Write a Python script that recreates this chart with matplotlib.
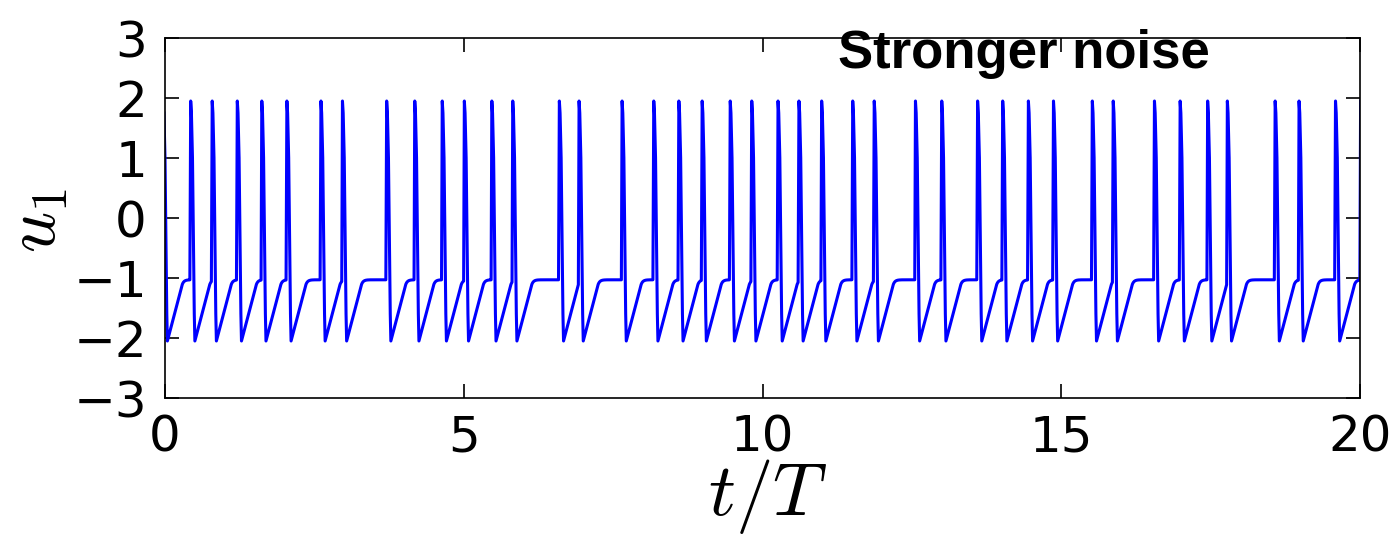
import numpy as np
import matplotlib
matplotlib.use("Agg")
import matplotlib.pyplot as plt

# ---- data ----
# times (t/T) of the spike peaks
spike_times = [-0.03, 0.43, 0.79, 1.21, 1.62, 2.04, 2.61, 2.97, 3.71, 4.18,
               4.64, 5.01, 5.47, 5.82, 6.60, 6.93, 7.65, 8.18, 8.60, 8.99,
               9.46, 9.82, 10.26, 10.61, 10.99, 11.51, 11.87, 12.56, 13.00,
               13.60, 14.02, 14.45, 14.87, 15.52, 15.87, 16.56, 16.99, 17.45,
               17.78, 18.58, 18.98, 19.59, 20.01]
# spike waveform (offset from peak, value)
spike_dt = [0.0, 0.012, 0.03, 0.045, 0.06, 0.07]
spike_u = [1.95, 1.75, 1.0, -0.3, -1.6, -2.05]
rise_dt = 0.012
u_min = -2.05      # trough after a spike
u_knee = -1.12     # end of the linear recovery
u_rest = -1.03     # resting plateau
recovery_slope = 3.8

xticks = [0, 5, 10, 15, 20]
yticks = [-3, -2, -1, 0, 1, 2, 3]


def recovery(tau):
    tk = (u_knee - u_min) / recovery_slope
    lin = u_min + recovery_slope * tau
    ex = u_rest + (u_knee - u_rest) * np.exp(-(tau - tk) / 0.03)
    return np.where(tau < tk, lin, ex)


t_all = [spike_times[0] - 0.1, spike_times[0] - rise_dt]
u_all = [u_rest, u_rest]
n = len(spike_times)
for i, s in enumerate(spike_times):
    for d, v in zip(spike_dt, spike_u):
        t_all.append(s + d)
        u_all.append(v)
    bottom = s + spike_dt[-1]
    nxt = spike_times[i + 1] - rise_dt if i + 1 < n else 20.5
    tau = np.arange(0.002, max(nxt - bottom, 0.003), 0.002)
    t_all.extend(list(bottom + tau))
    u_all.extend(list(recovery(tau)))

t_all = np.array(t_all)
u_all = np.array(u_all)
mask = (t_all >= -0.2) & (t_all <= 20.2)

plt.rcParams["mathtext.fontset"] = "cm"
plt.rcParams["font.family"] = ["DejaVu Sans"]

fig = plt.figure(figsize=(13.93, 5.48), dpi=100)
ax = fig.add_axes([165 / 1393, 1 - 398 / 548, 1195 / 1393, 360 / 548])
ax.plot(t_all[mask], u_all[mask], color="#0000ff", lw=2.2)
ax.set_xlim(0, 20)
ax.set_ylim(-3, 3)
ax.set_xticks(xticks)
ax.set_yticks(yticks)
ax.tick_params(direction="in", top=True, right=True, length=10, width=1.2,
               labelsize=36)
ax.tick_params(axis="x", pad=11)
ax.tick_params(axis="y", pad=13)
for sp in ax.spines.values():
    sp.set_linewidth(1.2)

fig.text(768 / 1393, 1 - 497 / 548, r"$t/T$", fontsize=54, ha="center",
         va="center")
fig.text(36 / 1393, 1 - 221 / 548, r"$u_1$", fontsize=52, rotation=90,
         ha="center", va="center")

ax.text((838 - 165) / 1195, (398 - 68) / 360, "Stronger noise",
        transform=ax.transAxes, family="Liberation Sans", fontweight="bold",
        fontsize=38, va="baseline", ha="left", zorder=1)

fig.savefig("out.png", dpi=100)
